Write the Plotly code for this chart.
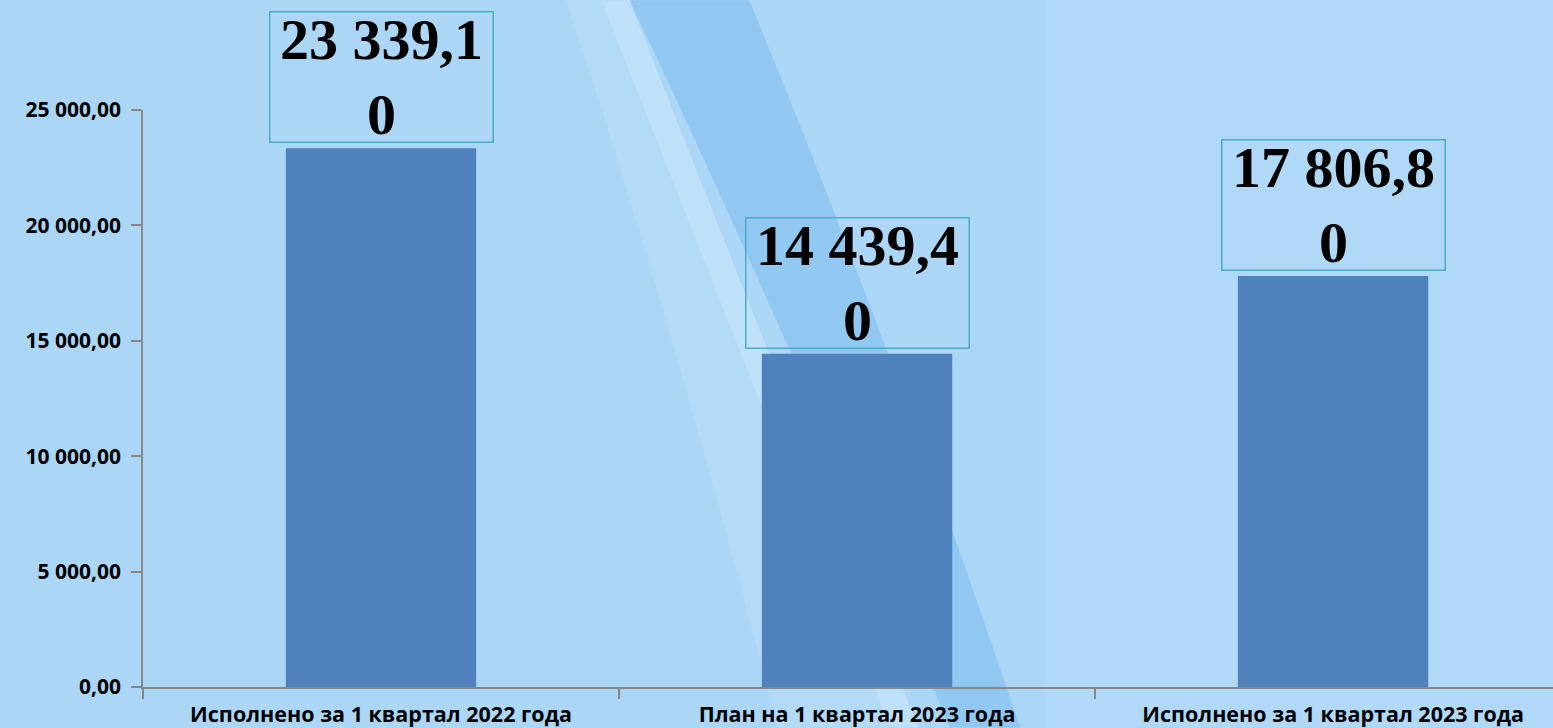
import plotly.graph_objects as go

# Data
categories = ["Исполнено за 1 квартал 2022 года",
              "План на 1 квартал 2023 года",
              "Исполнено за 1 квартал 2023 года"]
values = [23339.10, 14439.40, 17806.80]
label_texts = ["23 339,1<br>0", "14 439,4<br>0", "17 806,8<br>0"]
y_ticks = [0, 5000, 10000, 15000, 20000, 25000]

bar_color = "#4F81BD"
box_color = "#4BACC6"
axis_color = "#878787"

fig = go.Figure()
fig.add_trace(go.Bar(x=categories, y=values,
                     marker=dict(color=bar_color, line=dict(width=0)),
                     width=0.4, hoverinfo="x+y"))

# value labels in framed boxes above bars
for cat, val, txt in zip(categories, values, label_texts):
    fig.add_annotation(x=cat, y=val, text="<b>" + txt + "</b>", showarrow=False,
                       xanchor="center", yanchor="bottom", yshift=5,
                       width=222, height=129, borderpad=0,
                       bordercolor=box_color, borderwidth=1.5,
                       font=dict(family="Liberation Serif", size=58, color="black"),
                       align="center", valign="middle")

# background decoration (imitating the slide picture)
bg_shapes = [
    dict(path="M 0.345,1.19 L 0.43,1.19 Q 0.53,0.6 0.622,-0.07 L 0.572,-0.07 Q 0.46,0.6 0.345,1.19 Z",
         fillcolor="rgba(80,165,235,0.28)"),
    dict(path="M 0.325,1.19 L 0.345,1.19 Q 0.44,0.6 0.55,-0.07 L 0.53,-0.07 Q 0.42,0.6 0.325,1.19 Z",
         fillcolor="rgba(240,250,255,0.30)"),
    dict(path="M 0.30,1.19 L 0.325,1.19 Q 0.42,0.6 0.53,-0.07 L 0.45,-0.07 Q 0.38,0.6 0.30,1.19 Z",
         fillcolor="rgba(225,242,255,0.15)"),
    dict(path="M 0.64,1.19 L 1.0,1.19 L 1.0,-0.07 L 0.64,-0.07 Z",
         fillcolor="rgba(225,242,252,0.10)"),
]
for s in bg_shapes:
    fig.add_shape(type="path", xref="paper", yref="paper", layer="below",
                  line=dict(width=0), **s)

fig.update_layout(
    width=1553, height=728,
    autosize=False,
    margin=dict(l=143, r=0, t=110, b=39, pad=0),
    paper_bgcolor="#ABD6F6",
    plot_bgcolor="rgba(0,0,0,0)",
    separators=", ",
    showlegend=False,
    font=dict(family="Open Sans", color="black"),
)
fig.update_xaxes(type="category", range=[-0.5, 2.462],
                 showline=True, linecolor=axis_color, linewidth=1.5,
                 ticks="outside", tickson="boundaries", ticklen=10,
                 tickcolor=axis_color, tickwidth=1.5, ticklabelstandoff=7,
                 showgrid=False, zeroline=False,
                 tickfont=dict(family="Open Sans", size=21.5, color="black", weight="bold"))
fig.update_yaxes(range=[0, 25000], tickvals=y_ticks, tickformat=",.2f",
                 showline=True, linecolor=axis_color, linewidth=1.5,
                 ticks="outside", ticklen=10, tickcolor=axis_color, tickwidth=1.5,
                 ticklabelstandoff=6,
                 showgrid=False, zeroline=False,
                 tickfont=dict(family="Open Sans", size=21, color="black", weight="bold"))

fig.write_html("out.html", config={"displayModeBar": False},
               post_script="document.body.style.margin='0';")
